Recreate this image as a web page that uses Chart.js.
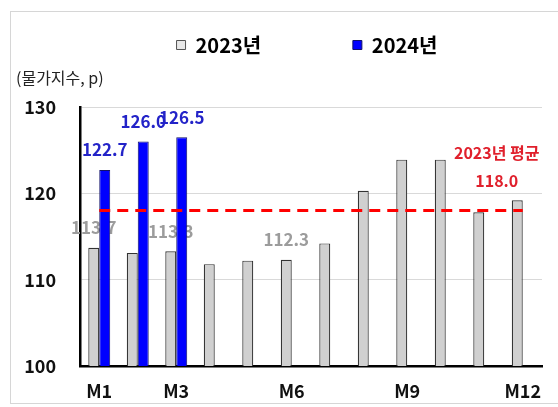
<!DOCTYPE html>
<html>
<head>
<meta charset="utf-8">
<script src="https://cdn.jsdelivr.net/npm/chart.js@4.4.1/dist/chart.umd.min.js"></script>
<style>
  html, body { margin:0; padding:0; background:#fff; }
  #wrap { position:relative; width:558px; height:407px; overflow:hidden; }
  #frame { position:absolute; left:10px; top:11px; width:600px; height:393px; border:1px solid #d6d6d6; box-sizing:border-box; }
  canvas { position:absolute; left:0; top:0; }
</style>
</head>
<body>
<div id="wrap"><div id="frame"></div><canvas id="c" width="558" height="407"></canvas></div>
<script>
const categories = ['M1','M2','M3','M4','M5','M6','M7','M8','M9','M10','M11','M12'];
const xTickLabels = ['M1','','M3','','','M6','','','M9','','','M12'];
const values2023 = [113.7, 113.1, 113.3, 111.8, 112.2, 112.3, 114.2, 120.3, 123.9, 123.9, 117.8, 119.2];
const values2024 = [122.7, 126.0, 126.5, null, null, null, null, null, null, null, null, null];
const avg2023 = [118.0, 118.0, 118.0, 118.0, 118.0, 118.0, 118.0, 118.0, 118.0, 118.0, 118.0, 118.0];
const labeled2023 = [0, 2, 5];
const yTicks = [100, 110, 120, 130];
const seriesNames = ['2023년', '2024년'];
const avgTitle = '2023년 평균';
const yUnit = '(물가지수, p)';

const FONT = '"Noto Sans CJK KR", "Noto Sans", sans-serif';

const labelPlugin = {
  id: 'valueLabels',
  beforeDatasetsDraw(chart) {
    const ctx = chart.ctx;
    const meta = chart.getDatasetMeta(0);
    ctx.save();
    ctx.font = 'bold 17px ' + FONT;
    ctx.fillStyle = '#9c9c9c';
    ctx.textAlign = 'center';
    ctx.textBaseline = 'middle';
    labeled2023.forEach(i => {
      const el = meta.data[i];
      ctx.fillText(values2023[i].toFixed(1), el.x, el.y - 20);
    });
    ctx.restore();
  },
  afterDatasetsDraw(chart) {
    const ctx = chart.ctx;
    const meta = chart.getDatasetMeta(1);
    ctx.save();
    ctx.font = 'bold 17px ' + FONT;
    ctx.fillStyle = '#2323c8';
    ctx.textAlign = 'center';
    ctx.textBaseline = 'middle';
    values2024.forEach((v, i) => {
      if (v == null) return;
      const el = meta.data[i];
      ctx.fillText(v.toFixed(1), el.x, el.y - 20);
    });
    ctx.restore();
  },
  afterDraw(chart) {
    const ctx = chart.ctx;
    const xs = chart.scales.x, ys = chart.scales.y;
    const x = xs.getPixelForValue(11) - 26;
    const y = ys.getPixelForValue(avg2023[11]);
    ctx.save();
    ctx.fillStyle = '#e0202c';
    ctx.font = 'bold 16px ' + FONT;
    ctx.textAlign = 'center';
    ctx.textBaseline = 'middle';
    ctx.fillText(avgTitle, x, y - 58);
    ctx.fillText(avg2023[11].toFixed(1), x, y - 30);
    ctx.fillStyle = '#222';
    ctx.font = '16px ' + FONT;
    ctx.textAlign = 'left';
    ctx.fillText(yUnit, 16, 78);
    ctx.restore();
  }
};

const legendFitPlugin = {
  id: 'legendFit',
  beforeInit(chart) {
    const legend = chart.legend;
    const origFit = legend.fit;
    legend.fit = function() {
      origFit.bind(legend)();
      this.height = 82;
    };
    const origDraw = legend.draw;
    legend.draw = function() {
      const ctx = chart.ctx;
      ctx.save();
      ctx.translate(31, 0);
      origDraw.bind(legend)();
      ctx.restore();
    };
  }
};

new Chart(document.getElementById('c'), {
  type: 'bar',
  data: {
    labels: categories,
    datasets: [
      {
        label: seriesNames[0],
        data: values2023,
        backgroundColor: '#d0d0d0',
        borderColor: '#333333',
        borderWidth: 1.2,
        order: 1
      },
      {
        label: seriesNames[1],
        data: values2024,
        backgroundColor: '#0000ff',
        borderColor: '#10106a',
        borderWidth: 1,
        order: 2
      },
      {
        type: 'line',
        label: avgTitle,
        data: avg2023,
        borderColor: '#ff0000',
        borderWidth: 3,
        borderDash: [11, 7],
        pointRadius: 0,
        fill: false,
        order: 0
      }
    ]
  },
  options: {
    responsive: false,
    animation: false,
    devicePixelRatio: 1,
    layout: { padding: { top: 25, left: 10, right: 16, bottom: 0 } },
    datasets: { bar: { categoryPercentage: 0.57, barPercentage: 1.0 } },
    plugins: {
      tooltip: { enabled: false },
      legend: {
        position: 'top',
        labels: {
          boxWidth: 9,
          boxHeight: 9,
          padding: 10,
          color: '#222',
          font: { family: FONT, size: 20, weight: 'bold' },
          generateLabels(chart) {
            return [
              { text: seriesNames[0] + '\u00a0'.repeat(18), fillStyle: '#e8e8e8', strokeStyle: '#555', lineWidth: 1, datasetIndex: 0 },
              { text: seriesNames[1], fillStyle: '#0000ff', strokeStyle: '#10106a', lineWidth: 1, datasetIndex: 1 }
            ];
          }
        }
      }
    },
    scales: {
      x: {
        grid: { display: false, drawTicks: false },
        border: { display: true, color: '#000', width: 2.5 },
        ticks: {
          autoSkip: false,
          maxRotation: 0,
          padding: 14,
          color: '#111',
          font: { family: FONT, size: 18, weight: 'bold' },
          callback: (v, i) => xTickLabels[i]
        },
        afterFit(scale) { scale.height = 41; }
      },
      y: {
        min: 100,
        max: 130,
        afterBuildTicks(scale) { scale.ticks = yTicks.map(v => ({ value: v })); },
        grid: { color: '#d9d9d9', lineWidth: 1, drawTicks: false },
        border: { display: true, color: '#000', width: 2.5 },
        ticks: {
          padding: 24,
          color: '#111',
          font: { family: FONT, size: 18, weight: 'bold' }
        },
        afterFit(scale) { scale.width = 70; }
      }
    }
  },
  plugins: [labelPlugin, legendFitPlugin]
});
</script>
</body>
</html>
